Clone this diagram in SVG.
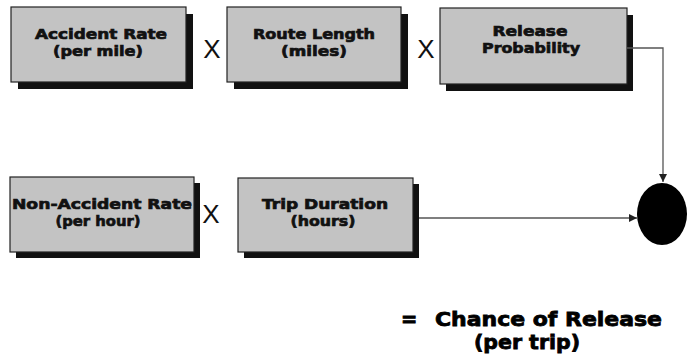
<svg xmlns="http://www.w3.org/2000/svg" width="687" height="362" viewBox="0 0 687 362">
  <style>
    .shadow { fill: #111; }
    .box { fill: #c3c3c3; stroke: #222; stroke-width: 1.2; }
    .lbl { font-family: "DejaVu Sans", Verdana, sans-serif; font-weight: bold; font-size: 14.5px; fill: #111; stroke: #111; stroke-width: 0.7; text-anchor: middle; }
    .op { font-family: "Liberation Sans", Arial, sans-serif; font-size: 26px; fill: #111; text-anchor: middle; }
    .res { font-family: "DejaVu Sans", Verdana, sans-serif; font-weight: bold; font-size: 19.5px; fill: #000; stroke: #000; stroke-width: 0.8; }
    .wire { fill: none; stroke: #555; stroke-width: 1.3; }
  </style>
  <defs>
    <marker id="arrow" viewBox="0 0 10 10" refX="10" refY="5" markerWidth="8" markerHeight="8" markerUnits="userSpaceOnUse" orient="auto">
      <path d="M0,0 L10,5 L0,10 Z" fill="#222"/>
    </marker>
  </defs>

  <!-- Top row: Accident Rate x Route Length x Release Probability -->
  <g id="accident-rate">
    <rect class="shadow" x="18" y="14" width="175" height="75"/>
    <rect class="box" x="11" y="7" width="175" height="75"/>
    <text class="lbl" x="101" y="39" textLength="132" lengthAdjust="spacingAndGlyphs">Accident Rate</text>
    <text class="lbl" x="98" y="56" textLength="90" lengthAdjust="spacingAndGlyphs">(per mile)</text>
  </g>
  <text class="op" x="212" y="58">X</text>
  <g id="route-length">
    <rect class="shadow" x="234" y="14" width="174" height="75"/>
    <rect class="box" x="227" y="7" width="174" height="75"/>
    <text class="lbl" x="314" y="39" textLength="122" lengthAdjust="spacingAndGlyphs">Route Length</text>
    <text class="lbl" x="314" y="56" textLength="66" lengthAdjust="spacingAndGlyphs">(miles)</text>
  </g>
  <text class="op" x="426" y="58">X</text>
  <g id="release-probability">
    <rect class="shadow" x="446" y="15" width="187" height="76"/>
    <rect class="box" x="440" y="8" width="187" height="76"/>
    <text class="lbl" x="530" y="36" textLength="75" lengthAdjust="spacingAndGlyphs">Release</text>
    <text class="lbl" x="531" y="53" textLength="98" lengthAdjust="spacingAndGlyphs">Probability</text>
  </g>

  <!-- Bottom row: Non-Accident Rate x Trip Duration -->
  <g id="non-accident-rate">
    <rect class="shadow" x="16" y="183" width="184" height="75"/>
    <rect class="box" x="10" y="177" width="184" height="75"/>
    <text class="lbl" x="102" y="209" textLength="180" lengthAdjust="spacingAndGlyphs">Non-Accident Rate</text>
    <text class="lbl" x="98" y="226" textLength="85" lengthAdjust="spacingAndGlyphs">(per hour)</text>
  </g>
  <text class="op" x="211" y="223">X</text>
  <g id="trip-duration">
    <rect class="shadow" x="244" y="184" width="175" height="74"/>
    <rect class="box" x="238" y="178" width="175" height="74"/>
    <text class="lbl" x="325" y="209" textLength="126" lengthAdjust="spacingAndGlyphs">Trip Duration</text>
    <text class="lbl" x="323" y="226" textLength="65" lengthAdjust="spacingAndGlyphs">(hours)</text>
  </g>

  <!-- Result node -->
  <g id="chance-of-release">
    <ellipse cx="662" cy="214" rx="25" ry="31" fill="#000"/>
  </g>

  <!-- Connectors -->
  <g id="connectors">
    <path class="wire" d="M627,48 H663 V182" marker-end="url(#arrow)"/>
    <path class="wire" d="M419,218 H637" marker-end="url(#arrow)"/>
  </g>

  <!-- Result caption -->
  <text class="res" x="401" y="326">=</text>
  <text class="res" x="435" y="326" textLength="227" lengthAdjust="spacingAndGlyphs">Chance of Release</text>
  <text class="res" x="474" y="349" textLength="106" lengthAdjust="spacingAndGlyphs">(per trip)</text>
</svg>
